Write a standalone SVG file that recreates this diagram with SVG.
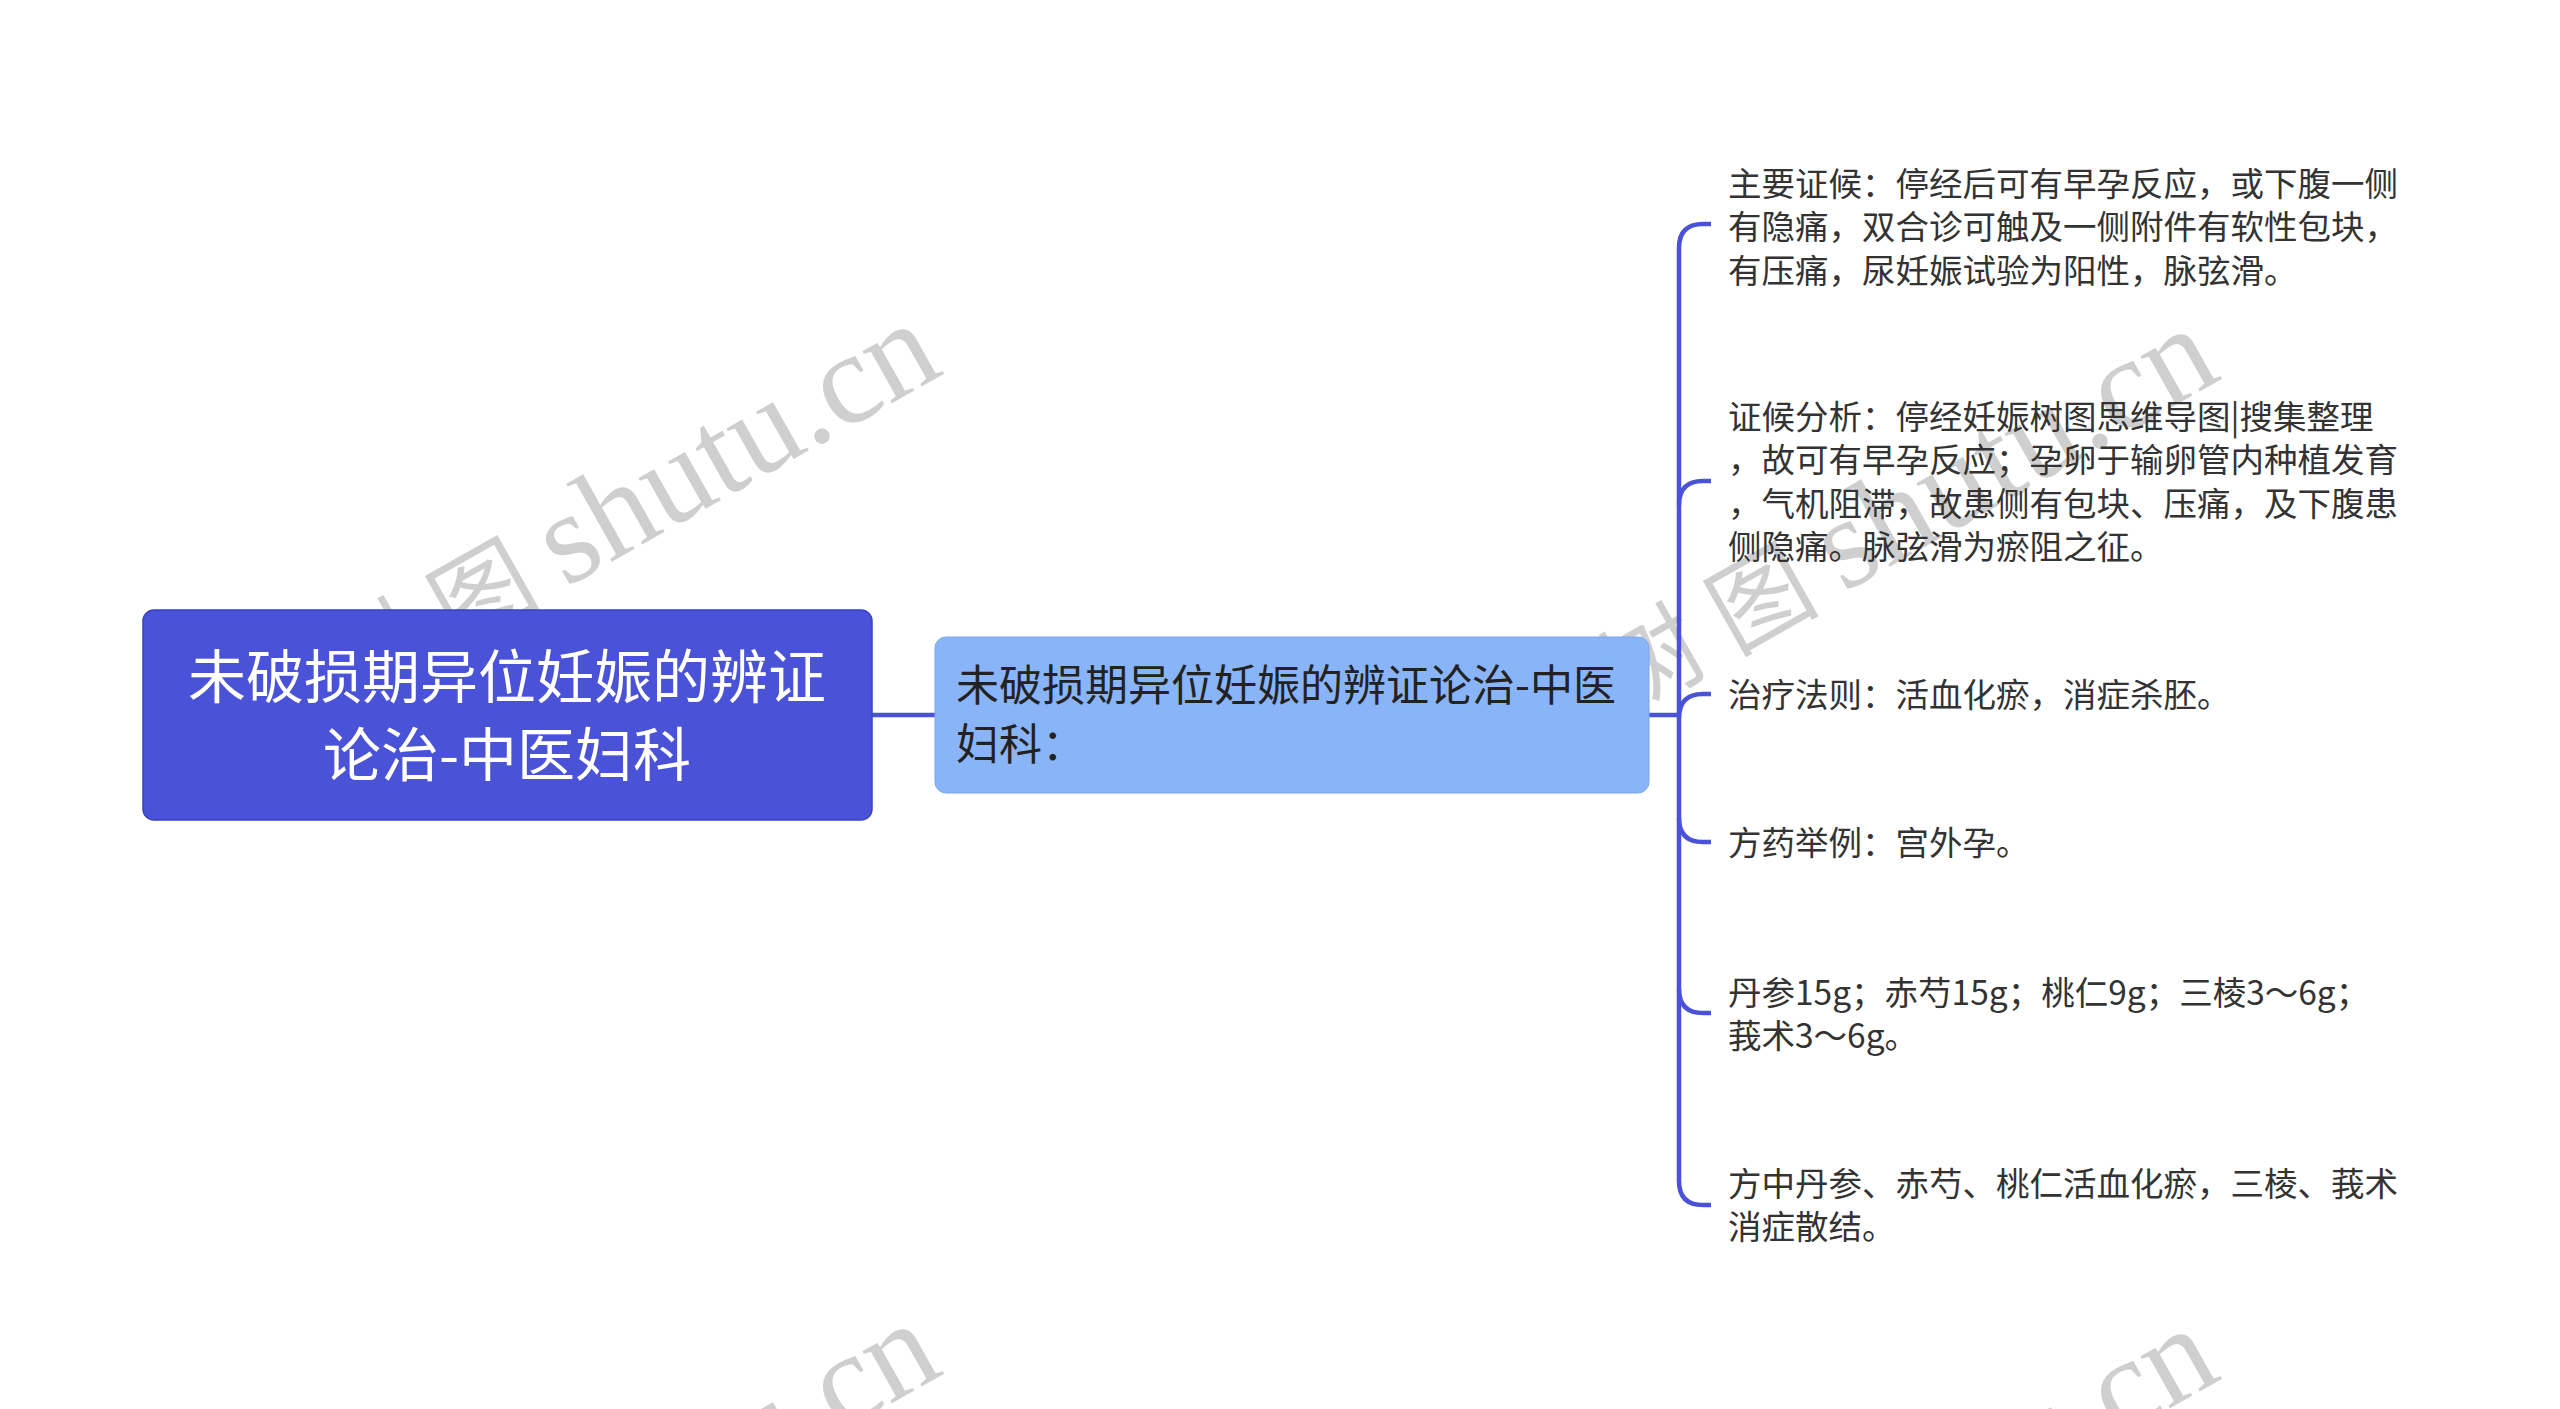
<svg xmlns="http://www.w3.org/2000/svg" width="2560" height="1409" viewBox="0 0 2560 1409">
<style>
.cjk{font-family:"Noto Sans CJK SC","Noto Sans",sans-serif}
.root{fill:#4A52D8;stroke:#3A42C2;stroke-width:1.5}
.rootT{fill:#FFFFFF;font-size:58px;text-anchor:middle}
.sub{fill:#8AB4F8;stroke:#7BA6EE;stroke-width:1}
.subT{fill:#222222;font-size:43px}
.leafT{fill:#333333;font-size:33.5px}
.conn{fill:none;stroke:#4A52D8;stroke-width:4.5;stroke-linecap:butt}
.wm{fill:#cfcfcf}
.wmc{font-family:"Noto Sans CJK SC",sans-serif;font-size:100px;letter-spacing:25px}
.wml{font-family:"Liberation Serif",serif;font-size:130px;letter-spacing:0}
</style>
<rect width="2560" height="1409" fill="#FFFFFF"/>
<g id="watermarks">
<text class="wm" x="348" y="711" transform="rotate(-29.5 348 711)"><tspan class="wmc">树图</tspan><tspan class="wml">shutu.cn</tspan></text>
<text class="wm" x="1626" y="716" transform="rotate(-29.5 1626 716)"><tspan class="wmc">树图</tspan><tspan class="wml">shutu.cn</tspan></text>
<text class="wm" x="348" y="1711" transform="rotate(-29.5 348 1711)"><tspan class="wmc">树图</tspan><tspan class="wml">shutu.cn</tspan></text>
<text class="wm" x="1626" y="1716" transform="rotate(-29.5 1626 1716)"><tspan class="wmc">树图</tspan><tspan class="wml">shutu.cn</tspan></text>
</g>
<g id="connectors">
<path class="conn" d="M872 715 H935"/>
<path class="conn" d="M1649 715 H1679"/>
<path class="conn" d="M1679 248 V1181"/>
<path class="conn" d="M1679 248 Q1679 224 1703 224 H1711"/>
<path class="conn" d="M1679 505 Q1679 481 1703 481 H1711"/>
<path class="conn" d="M1679 718 Q1679 694 1703 694 H1711"/>
<path class="conn" d="M1679 818 Q1679 842 1703 842 H1711"/>
<path class="conn" d="M1679 989 Q1679 1013 1703 1013 H1711"/>
<path class="conn" d="M1679 1181 Q1679 1205 1703 1205 H1711"/>
</g>
<g id="node-root">
<rect class="root" x="143" y="610" width="729" height="210" rx="11"/>
<text class="cjk rootT" x="507" y="698">未破损期异位妊娠的辨证</text>
<text class="cjk rootT" x="507" y="776">论治-中医妇科</text>
</g>
<g id="node-sub">
<rect class="sub" x="935" y="637" width="714" height="156" rx="11"/>
<text class="cjk subT" x="956" y="701">未破损期异位妊娠的辨证论治-中医</text>
<text class="cjk subT" x="956" y="760">妇科：</text>
</g>
<g id="node-leaf1">
<text class="cjk leafT" x="1728" y="196">主要证候：停经后可有早孕反应，或下腹一侧</text>
<text class="cjk leafT" x="1728" y="239">有隐痛，双合诊可触及一侧附件有软性包块，</text>
<text class="cjk leafT" x="1728" y="283">有压痛，尿妊娠试验为阳性，脉弦滑。</text>
</g>
<g id="node-leaf2">
<text class="cjk leafT" x="1728" y="429">证候分析：停经妊娠树图思维导图|搜集整理</text>
<text class="cjk leafT" x="1728" y="472">，故可有早孕反应；孕卵于输卵管内种植发育</text>
<text class="cjk leafT" x="1728" y="516">，气机阻滞，故患侧有包块、压痛，及下腹患</text>
<text class="cjk leafT" x="1728" y="559">侧隐痛。脉弦滑为瘀阻之征。</text>
</g>
<g id="node-leaf3">
<text class="cjk leafT" x="1728" y="707">治疗法则：活血化瘀，消症杀胚。</text>
</g>
<g id="node-leaf4">
<text class="cjk leafT" x="1728" y="855">方药举例：宫外孕。</text>
</g>
<g id="node-leaf5">
<text class="cjk leafT" x="1728" y="1005">丹参15g；赤芍15g；桃仁9g；三棱3～6g；</text>
<text class="cjk leafT" x="1728" y="1048">莪术3～6g。</text>
</g>
<g id="node-leaf6">
<text class="cjk leafT" x="1728" y="1196">方中丹参、赤芍、桃仁活血化瘀，三棱、莪术</text>
<text class="cjk leafT" x="1728" y="1239">消症散结。</text>
</g>
</svg>
